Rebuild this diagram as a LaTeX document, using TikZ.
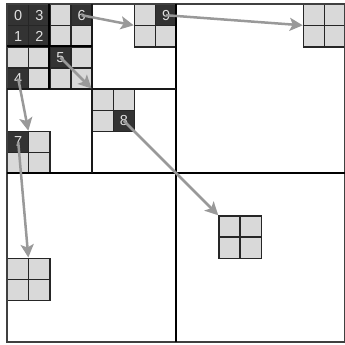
\documentclass[tikz,border=0pt]{standalone}
\usepackage{fontspec}
\setsansfont{Liberation Sans}
\usetikzlibrary{arrows.meta}
\definecolor{cellgray}{HTML}{D9D9D9}
\definecolor{celldark}{HTML}{333333}
\definecolor{arrgray}{HTML}{999999}
\begin{document}
\begin{tikzpicture}[x=1pt,y=-1pt,
  lcell/.style={draw=black!85,line width=1.3pt,fill=cellgray,minimum size=21.125pt,inner sep=0pt,anchor=north west},
  dcell/.style={lcell,fill=celldark,text=white!88!black,font=\sffamily\fontsize{14.5}{14.5}\selectfont},
  grp/.style={minimum size=42.25pt,inner sep=0pt,anchor=north west},
  thickline/.style={line width=2.4pt,black},
  midline/.style={line width=2pt,black!90},
  frame/.style={line width=2pt,black!75},
  arr/.style={line width=2.5pt,arrgray,-{Stealth[length=13pt,width=13pt,inset=3pt]}}]
\useasboundingbox (0,0) rectangle (345,345);
\fill[white] (0,0) rectangle (345,345);
% top-left 4x4 block
\node[dcell] (c0) at ({7+21.125*0},{4+21.125*0}) {0};
\node[dcell] (c3) at ({7+21.125*1},{4+21.125*0}) {3};
\node[lcell] (c20) at ({7+21.125*2},{4+21.125*0}) {};
\node[dcell] (c6) at ({7+21.125*3},{4+21.125*0}) {6};
\node[dcell] (c1) at ({7+21.125*0},{4+21.125*1}) {1};
\node[dcell] (c2) at ({7+21.125*1},{4+21.125*1}) {2};
\node[lcell] (c21) at ({7+21.125*2},{4+21.125*1}) {};
\node[lcell] (c31) at ({7+21.125*3},{4+21.125*1}) {};
\node[lcell] (c02) at ({7+21.125*0},{4+21.125*2}) {};
\node[lcell] (c12) at ({7+21.125*1},{4+21.125*2}) {};
\node[dcell] (c5) at ({7+21.125*2},{4+21.125*2}) {5};
\node[lcell] (c32) at ({7+21.125*3},{4+21.125*2}) {};
\node[dcell] (c4) at ({7+21.125*0},{4+21.125*3}) {4};
\node[lcell] (c13) at ({7+21.125*1},{4+21.125*3}) {};
\node[lcell] (c23) at ({7+21.125*2},{4+21.125*3}) {};
\node[lcell] (c33) at ({7+21.125*3},{4+21.125*3}) {};
% group with 9
\node[grp] (g9) at ({7+21.125*6},{4+21.125*0}) {};
\node[lcell] (c60) at ({7+21.125*6},{4+21.125*0}) {};
\node[dcell] (c9) at ({7+21.125*7},{4+21.125*0}) {9};
\node[lcell] (c61) at ({7+21.125*6},{4+21.125*1}) {};
\node[lcell] (c71) at ({7+21.125*7},{4+21.125*1}) {};
% group top right
\node[grp] (gtr) at ({7+21.125*14},{4+21.125*0}) {};
\node[lcell] (c140) at ({7+21.125*14},{4+21.125*0}) {};
\node[lcell] (c150) at ({7+21.125*15},{4+21.125*0}) {};
\node[lcell] (c141) at ({7+21.125*14},{4+21.125*1}) {};
\node[lcell] (c151) at ({7+21.125*15},{4+21.125*1}) {};
% group with 8
\node[grp] (g8) at ({7+21.125*4},{4+21.125*4}) {};
\node[lcell] (c44) at ({7+21.125*4},{4+21.125*4}) {};
\node[lcell] (c54) at ({7+21.125*5},{4+21.125*4}) {};
\node[lcell] (c45) at ({7+21.125*4},{4+21.125*5}) {};
\node[dcell] (c8) at ({7+21.125*5},{4+21.125*5}) {8};
% group with 7
\node[grp] (g7) at ({7+21.125*0},{4+21.125*6}) {};
\node[dcell] (c7) at ({7+21.125*0},{4+21.125*6}) {7};
\node[lcell] (c16) at ({7+21.125*1},{4+21.125*6}) {};
\node[lcell] (c07) at ({7+21.125*0},{4+21.125*7}) {};
\node[lcell] (c17) at ({7+21.125*1},{4+21.125*7}) {};
% group bottom right
\node[grp] (gbr) at ({7+21.125*10},{4+21.125*10}) {};
\node[lcell] (c1010) at ({7+21.125*10},{4+21.125*10}) {};
\node[lcell] (c1110) at ({7+21.125*11},{4+21.125*10}) {};
\node[lcell] (c1011) at ({7+21.125*10},{4+21.125*11}) {};
\node[lcell] (c1111) at ({7+21.125*11},{4+21.125*11}) {};
% group bottom left
\node[grp] (gbl) at ({7+21.125*0},{4+21.125*12}) {};
\node[lcell] (c012) at ({7+21.125*0},{4+21.125*12}) {};
\node[lcell] (c112) at ({7+21.125*1},{4+21.125*12}) {};
\node[lcell] (c013) at ({7+21.125*0},{4+21.125*13}) {};
\node[lcell] (c113) at ({7+21.125*1},{4+21.125*13}) {};
% subdivision lines
\draw[frame] (7,4) rectangle (345,342);
\draw[thickline] (176,4) -- (176,342);
\draw[thickline] (7,173) -- (345,173);
\draw[midline] (91.5,4) -- (91.5,173);
\draw[midline] (7,88.5) -- (176,88.5);
\draw[line width=1.8pt,black] (49.25,4) -- (49.25,88.5);
\draw[line width=1.8pt,black] (7,46.25) -- (91.5,46.25);
% arrows
\draw[arr] (c6.center) -- (g9.west);
\draw[arr] (c9.center) -- (gtr.west);
\draw[arr] (c5.center) -- (g8.north west);
\draw[arr] (c4.center) -- (g7.north);
\draw[arr] (c8.center) -- (gbr.north west);
\draw[arr] (c7.center) -- (gbl.north);
\end{tikzpicture}
\end{document}
